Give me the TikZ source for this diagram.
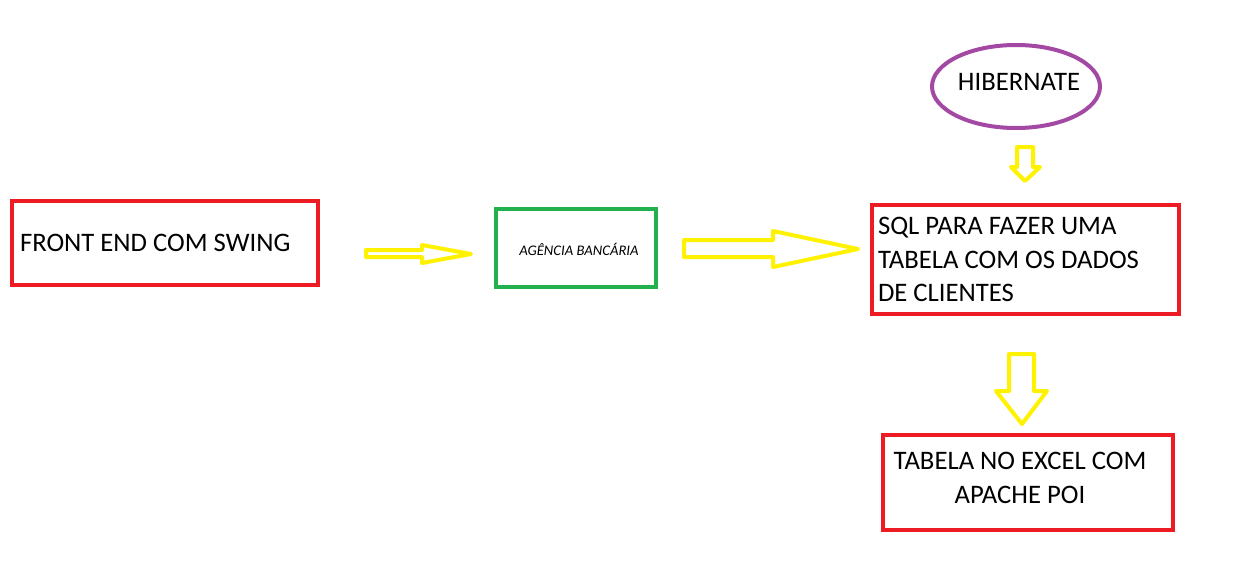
\documentclass[tikz,border=0pt]{standalone}
\usepackage{fontspec}
\setmainfont{Carlito}
\usetikzlibrary{shapes.geometric}
\definecolor{pred}{HTML}{ED1C24}
\definecolor{pgreen}{HTML}{22B14C}
\definecolor{pyellow}{HTML}{FFF200}
\definecolor{ppurple}{HTML}{A349A4}
\begin{document}
\begin{tikzpicture}[x=1pt,y=-1pt,
  box/.style={draw=pred,line width=4pt,rectangle,inner sep=0pt},
  bigtext/.style={font=\fontsize{26.7pt}{33.5pt}\selectfont,text=black},
  blockarrow/.style={draw=pyellow,line width=4pt,line join=round}]
\useasboundingbox[fill=white] (0,0) rectangle (1248,560);
% boxes
\node[box,bigtext,minimum width=306pt,minimum height=84pt,text width=290pt,align=flush left,inner xsep=8pt] (front) at (165,243) {FRONT END COM SWING};
\node[box,draw=pgreen,minimum width=160pt,minimum height=78pt] (agencia) at (576,248) {};
\node[font=\fontsize{14.67pt}{17pt}\selectfont\itshape] (agenciaText) at (579,249) {AGÊNCIA BANCÁRIA};
\node[box,bigtext,minimum width=307pt,minimum height=109pt,text width=295pt,align=flush left,inner xsep=6pt] (sql) at (1025.5,259.5) {SQL PARA FAZER UMA\\TABELA COM OS DADOS\\DE CLIENTES};
\node[box,minimum width=290pt,minimum height=95pt] (excel) at (1028,482.5) {};
\node[bigtext,align=center,inner sep=0pt] (excelText) at (1020,478) {TABELA NO EXCEL COM\\[1pt]APACHE POI};
\node[ellipse,draw=ppurple,line width=4pt,minimum width=168pt,minimum height=83pt,inner sep=0pt] (hib) at (1016,86.5) {};
\node[bigtext,inner sep=0pt] (hibText) at (1019,82) {HIBERNATE};
% block arrows
\draw[blockarrow] (366,250) -- (422,250) -- (422,245) -- (471,254) -- (422,263) -- (422,257) -- (366,257) -- cycle;
\draw[blockarrow] (684,240) -- (773,240) -- (773,231) -- (858,249) -- (773,267) -- (773,257) -- (684,257) -- cycle;
\draw[blockarrow] (1017,147) -- (1033,147) -- (1033,167) -- (1040,167) -- (1025,181) -- (1011,167) -- (1017,167) -- cycle;
\draw[blockarrow] (1009,354) -- (1034,354) -- (1034,391) -- (1047,391) -- (1022,424) -- (996,391) -- (1009,391) -- cycle;
\end{tikzpicture}
\end{document}
